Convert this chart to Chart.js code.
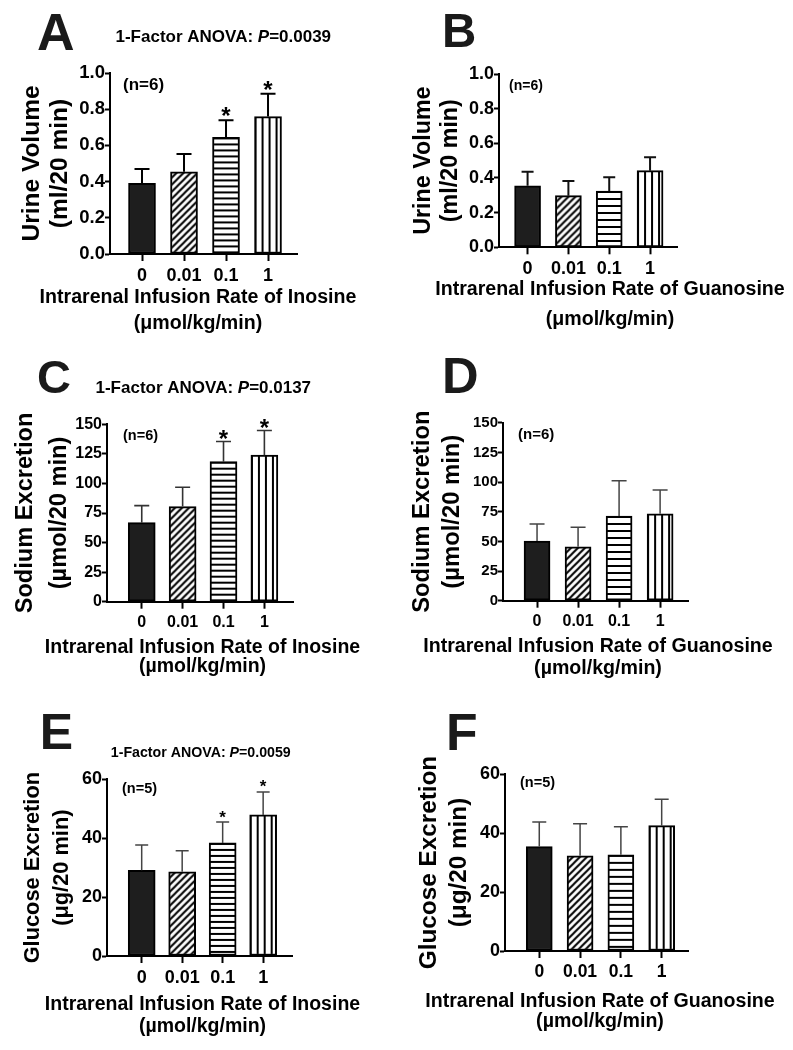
<!DOCTYPE html>
<html>
<head>
<meta charset="utf-8">
<script src="https://cdn.jsdelivr.net/npm/chart.js@4.4.1/dist/chart.umd.min.js"></script>
<style>
  html, body { margin: 0; padding: 0; background: #fff; width: 793px; height: 1050px; overflow: hidden; }
  canvas { position: absolute; }
</style>
</head>
<body>
<script>
// x categories: infusion rate (umol/kg/min)
const doseLabels = ['0', '0.01', '0.1', '1'];

// A: urine volume, inosine (ml/20 min)
const urineInosine = [0.39, 0.454, 0.644, 0.759];
const urineInosineSem = [0.079, 0.098, 0.095, 0.127];
// B: urine volume, guanosine
const urineGuanosine = [0.355, 0.298, 0.325, 0.442];
const urineGuanosineSem = [0.081, 0.085, 0.079, 0.077];
// C: sodium excretion, inosine (umol/20 min)
const sodiumInosine = [66.8, 80.4, 118.4, 123.9];
const sodiumInosineSem = [14.4, 16.4, 17.0, 20.8];
// D: sodium excretion, guanosine
const sodiumGuanosine = [50.3, 45.5, 71.4, 73.3];
const sodiumGuanosineSem = [14.3, 16.3, 29.7, 20.0];
// E: glucose excretion, inosine (ug/20 min)
const glucoseInosine = [29.1, 28.6, 38.4, 47.9];
const glucoseInosineSem = [8.6, 7.1, 7.1, 7.8];
// F: glucose excretion, guanosine
const glucoseGuanosine = [35.4, 32.3, 32.6, 42.5];
const glucoseGuanosineSem = [8.3, 10.8, 9.5, 8.9];

// y tick labels
const urineTicks = [0, 0.2, 0.4, 0.6, 0.8, 1.0];
const sodiumTicks = [0, 25, 50, 75, 100, 125, 150];
const glucoseTicks = [0, 20, 40, 60];

const FONT = "'Liberation Sans', Arial, Helvetica, sans-serif";

const panels = [
  { letter: 'A', anova: '0.0039', n: '(n=6)', values: urineInosine, sem: urineInosineSem, stars: [2, 3],
    yTicks: urineTicks, yDigits: 1, yTitle: ['Urine Volume', '(ml/20 min)'],
    xTitle: 'Intrarenal Infusion Rate of Inosine', unit: '(\u03bcmol/kg/min)',
    box: { left: 0, top: 0, w: 396, h: 345 }, area: { l: 110, r: 297, t: 73, b: 254 },
    xMin: -0.762, xMax: 3.69, barW: 27, stripe: 6,
    yTitleSize: 24.5, yTitleX: 32.7, yTitleLh: 27.8, xTitleSize: 19.6, xTitleY: 298, xTitleLh: 25.3,
    xTickSize: 18, yTickSize: 18.5,
    letterPos: { x: 38, y: 50, s: 52 }, anovaPos: { x: 115.5, y: 37, s: 17 }, nPos: { x: 123, y: 85, s: 17 },
    starSize: 24, starGap: 8.5, errW: 2, errColor: '#000', capW: 15 },
  { letter: 'B', anova: null, n: '(n=6)', values: urineGuanosine, sem: urineGuanosineSem, stars: [],
    yTicks: urineTicks, yDigits: 1, yTitle: ['Urine Volume', '(ml/20 min)'],
    xTitle: 'Intrarenal Infusion Rate of Guanosine', unit: '(\u03bcmol/kg/min)',
    box: { left: 400, top: 0, w: 420, h: 345 }, area: { l: 499, r: 677, t: 74, b: 247.3 },
    xMin: -0.70, xMax: 3.66, barW: 26, stripe: 7,
    yTitleSize: 23.3, yTitleX: 424, yTitleLh: 27, xTitleSize: 19.6, xTitleY: 290, xTitleLh: 29.3,
    xTickSize: 18, yTickSize: 18,
    letterPos: { x: 445, y: 47, s: 47.5 }, anovaPos: null, nPos: { x: 509, y: 86, s: 14 },
    starSize: 24, starGap: 8, errW: 2, errColor: '#111', capW: 12 },
  { letter: 'C', anova: '0.0137', n: '(n=6)', values: sodiumInosine, sem: sodiumInosineSem, stars: [2, 3],
    yTicks: sodiumTicks, yDigits: 0, yTitle: ['Sodium Excretion', '(\u00b5mol/20 min)'],
    xTitle: 'Intrarenal Infusion Rate of Inosine', unit: '(\u00b5mol/kg/min)',
    box: { left: 0, top: 335, w: 405, h: 355 }, area: { l: 107, r: 293, t: 424.3, b: 601.7 },
    xMin: -0.85, xMax: 3.70, barW: 27, stripe: 6,
    yTitleSize: 23.6, yTitleX: 25.8, yTitleLh: 33.2, xTitleSize: 19.5, xTitleY: 647.5, xTitleLh: 19.1,
    xTickSize: 16, yTickSize: 16,
    letterPos: { x: 38, y: 393, s: 47 }, anovaPos: { x: 95.5, y: 388, s: 17 }, nPos: { x: 123, y: 436, s: 14.5 },
    starSize: 24, starGap: 7.5, errW: 1.6, errColor: '#333', capW: 15 },
  { letter: 'D', anova: null, n: '(n=6)', values: sodiumGuanosine, sem: sodiumGuanosineSem, stars: [],
    yTicks: sodiumTicks, yDigits: 0, yTitle: ['Sodium Excretion', '(\u00b5mol/20 min)'],
    xTitle: 'Intrarenal Infusion Rate of Guanosine', unit: '(\u00b5mol/kg/min)',
    box: { left: 400, top: 335, w: 396, h: 355 }, area: { l: 503, r: 688, t: 422.7, b: 600.7 },
    xMin: -0.83, xMax: 3.68, barW: 26, stripe: 7,
    yTitleSize: 23.8, yTitleX: 422.5, yTitleLh: 29.5, xTitleSize: 19.6, xTitleY: 646.7, xTitleLh: 21.6,
    xTickSize: 16, yTickSize: 15,
    letterPos: { x: 445, y: 393, s: 50.7 }, anovaPos: null, nPos: { x: 518, y: 435, s: 15 },
    starSize: 24, starGap: 7, errW: 1.5, errColor: '#444', capW: 15 },
  { letter: 'E', anova: '0.0059', n: '(n=5)', values: glucoseInosine, sem: glucoseInosineSem, stars: [2, 3],
    yTicks: glucoseTicks, yDigits: 0, yTitle: ['Glucose Excretion', '(\u03bcg/20 min)'],
    xTitle: 'Intrarenal Infusion Rate of Inosine', unit: '(\u00b5mol/kg/min)',
    box: { left: 0, top: 690, w: 405, h: 360 }, area: { l: 107, r: 292.7, t: 779.3, b: 956 },
    xMin: -0.857, xMax: 3.73, barW: 27, stripe: 6,
    yTitleSize: 21.8, yTitleX: 32.5, yTitleLh: 29.5, xTitleSize: 19.5, xTitleY: 1005, xTitleLh: 21.6,
    xTickSize: 18, yTickSize: 18,
    letterPos: { x: 42.7, y: 749.3, s: 50 }, anovaPos: { x: 110.8, y: 752.7, s: 14.2 }, nPos: { x: 122, y: 789, s: 14.5 },
    starSize: 17, starGap: 8, errW: 1.5, errColor: '#444', capW: 13 },
  { letter: 'F', anova: null, n: '(n=5)', values: glucoseGuanosine, sem: glucoseGuanosineSem, stars: [],
    yTicks: glucoseTicks, yDigits: 0, yTitle: ['Glucose Excretion', '(\u03bcg/20 min)'],
    xTitle: 'Intrarenal Infusion Rate of Guanosine', unit: '(\u00b5mol/kg/min)',
    box: { left: 400, top: 690, w: 400, h: 360 }, area: { l: 505, r: 688, t: 774, b: 951 },
    xMin: -0.84, xMax: 3.645, barW: 26, stripe: 7,
    yTitleSize: 24.3, yTitleX: 429, yTitleLh: 30, xTitleSize: 19.6, xTitleY: 1001.7, xTitleLh: 19.9,
    xTickSize: 17.5, yTickSize: 18,
    letterPos: { x: 449, y: 750, s: 51.7 }, anovaPos: null, nPos: { x: 520, y: 783, s: 14.5 },
    starSize: 17, starGap: 8, errW: 1.5, errColor: '#444', capW: 14 }
];

function makeFills(ctx, stripe) {
  function tile(w, h, draw) {
    const c = document.createElement('canvas');
    c.width = w; c.height = h;
    const g = c.getContext('2d');
    g.fillStyle = '#fff';
    g.fillRect(0, 0, w, h);
    g.fillStyle = '#000';
    g.strokeStyle = '#000';
    draw(g, w, h);
    return ctx.createPattern(c, 'repeat');
  }
  const diag = tile(7, 7, (g, w, h) => {
    g.lineWidth = 2;
    g.beginPath();
    g.moveTo(-1, h + 1); g.lineTo(w + 1, -1);
    g.moveTo(-1, 1); g.lineTo(1, -1);
    g.moveTo(w - 1, h + 1); g.lineTo(w + 1, h - 1);
    g.stroke();
  });
  const horiz = tile(4, stripe, (g, w) => g.fillRect(0, 0, w, 2));
  const vert = tile(7, 4, (g, w, h) => g.fillRect(0, 0, 2, h));
  return ['#1e1e1e', diag, horiz, vert];
}

function decorFor(p) {
  const ox = p.box.left, oy = p.box.top;
  return {
    id: 'panelDecor',
    beforeDatasetsDraw(chart) {
      const meta = chart.getDatasetMeta(0);
      const bg = chart.data.datasets[0].backgroundColor;
      meta.data.forEach((el, i) => {
        if (bg[i] instanceof CanvasPattern) {
          bg[i].setTransform(new DOMMatrix().translateSelf(el.x - el.width / 2, el.y));
        }
      });
    },
    afterDatasetsDraw(chart) {
      const ctx = chart.ctx;
      const ys = chart.scales.y;
      const meta = chart.getDatasetMeta(0);
      ctx.save();
      ctx.strokeStyle = p.errColor;
      ctx.lineWidth = p.errW;
      meta.data.forEach((el, i) => {
        const top = ys.getPixelForValue(p.values[i] + p.sem[i]);
        ctx.beginPath();
        ctx.moveTo(el.x, el.y);
        ctx.lineTo(el.x, top);
        ctx.moveTo(el.x - p.capW / 2, top);
        ctx.lineTo(el.x + p.capW / 2, top);
        ctx.stroke();
        if (p.stars.includes(i)) {
          // centre the asterisk ink a fixed gap above the cap
          ctx.fillStyle = '#000';
          ctx.font = `bold ${p.starSize}px ${FONT}`;
          ctx.textAlign = 'center';
          ctx.textBaseline = 'alphabetic';
          const m = ctx.measureText('*');
          const base = top - p.starGap + (m.actualBoundingBoxAscent - m.actualBoundingBoxDescent) / 2;
          ctx.fillText('*', el.x, base);
        }
      });
      ctx.restore();
    },
    afterDraw(chart) {
      const ctx = chart.ctx;
      ctx.save();
      ctx.textAlign = 'left';
      // panel letter, placed by its ink box
      ctx.fillStyle = '#1a1a1a';
      ctx.textBaseline = 'alphabetic';
      ctx.font = `bold ${p.letterPos.s}px ${FONT}`;
      const lm = ctx.measureText(p.letter);
      ctx.fillText(p.letter, p.letterPos.x - ox + lm.actualBoundingBoxLeft, p.letterPos.y - oy - lm.actualBoundingBoxDescent);
      ctx.fillStyle = '#000';
      ctx.textBaseline = 'middle';
      // ANOVA note
      if (p.anova) {
        const a = p.anovaPos;
        const bold = `bold ${a.s}px ${FONT}`;
        let x = a.x - ox;
        const y = a.y - oy;
        const pre = '1-Factor ANOVA: ';
        ctx.font = bold;
        ctx.fillText(pre, x, y);
        x += ctx.measureText(pre).width;
        ctx.font = `italic bold ${a.s}px ${FONT}`;
        ctx.fillText('P', x, y);
        x += ctx.measureText('P').width;
        ctx.font = bold;
        ctx.fillText('=' + p.anova, x, y);
      }
      // sample size
      ctx.font = `bold ${p.nPos.s}px ${FONT}`;
      ctx.fillText(p.n, p.nPos.x - ox, p.nPos.y - oy);
      ctx.restore();
    }
  };
}

panels.forEach(p => {
  const cv = document.createElement('canvas');
  cv.width = p.box.w;
  cv.height = p.box.h;
  cv.style.left = p.box.left + 'px';
  cv.style.top = p.box.top + 'px';
  document.body.appendChild(cv);

  // sizes of the boxes around the plot area, in canvas pixels
  const xBoxTop = p.xTitleY - p.xTitleLh / 2 - p.box.top;
  const L = {
    padTop: p.area.t - p.box.top,
    padBottom: p.box.h - (xBoxTop + 2 * p.xTitleLh),
    xH: xBoxTop - (p.area.b - p.box.top),
    yW: p.area.l - p.box.left,
    rW: p.box.left + p.box.w - p.area.r,
    yTitlePad: p.yTitleX - p.yTitleLh / 2 - p.box.left
  };

  const fills = makeFills(cv.getContext('2d'), p.stripe);
  const tickFont = size => ({ family: FONT, size: size, weight: 'bold' });

  new Chart(cv, {
    type: 'bar',
    data: {
      datasets: [{
        data: p.values.map((v, i) => ({ x: i, y: v })),
        backgroundColor: fills,
        borderColor: '#000',
        borderWidth: 2,
        borderSkipped: false,
        barThickness: p.barW,
        xAxisID: 'x',
        yAxisID: 'y'
      }]
    },
    options: {
      responsive: false,
      animation: false,
      events: [],
      layout: { padding: { top: L.padTop, bottom: L.padBottom, left: 0, right: 0 } },
      plugins: {
        legend: { display: false },
        tooltip: { enabled: false },
        title: {
          display: true,
          position: 'bottom',
          align: 'center',
          text: [p.xTitle, p.unit],
          color: '#000',
          padding: 0,
          font: { family: FONT, size: p.xTitleSize, weight: 'bold', lineHeight: p.xTitleLh / p.xTitleSize }
        }
      },
      scales: {
        x: {
          type: 'linear',
          min: p.xMin,
          max: p.xMax,
          offset: false,
          afterBuildTicks: s => { s.ticks = doseLabels.map((_, i) => ({ value: i })); },
          afterFit: s => { s.height = L.xH; },
          ticks: {
            autoSkip: false, maxRotation: 0, minRotation: 0, padding: 4,
            color: '#000', font: tickFont(p.xTickSize),
            callback: v => doseLabels[v]
          },
          grid: { offset: false, drawOnChartArea: false, drawTicks: true, tickLength: 7, tickWidth: 2, tickColor: '#000', color: '#000' },
          border: { display: true, color: '#000', width: 2 }
        },
        y: {
          type: 'linear',
          min: p.yTicks[0],
          max: p.yTicks[p.yTicks.length - 1],
          afterBuildTicks: s => { s.ticks = p.yTicks.map(v => ({ value: v })); },
          afterFit: s => { s.width = L.yW; },
          ticks: {
            padding: 0, color: '#000', font: tickFont(p.yTickSize),
            callback: v => Number(v).toFixed(p.yDigits)
          },
          grid: { drawOnChartArea: false, drawTicks: true, tickLength: 5, tickWidth: 2, tickColor: '#000', color: '#000' },
          border: { display: true, color: '#000', width: 2 },
          title: {
            display: true,
            text: p.yTitle,
            color: '#000',
            font: { family: FONT, size: p.yTitleSize, weight: 'bold', lineHeight: p.yTitleLh / p.yTitleSize },
            padding: { top: L.yTitlePad, bottom: 0 }
          }
        },
        yRight: {
          axis: 'y',
          type: 'linear',
          position: 'right',
          display: true,
          grid: { display: false },
          ticks: { display: false },
          border: { display: false },
          afterFit: s => { s.width = L.rW; }
        }
      }
    },
    plugins: [decorFor(p)]
  });
});
</script>
</body>
</html>
